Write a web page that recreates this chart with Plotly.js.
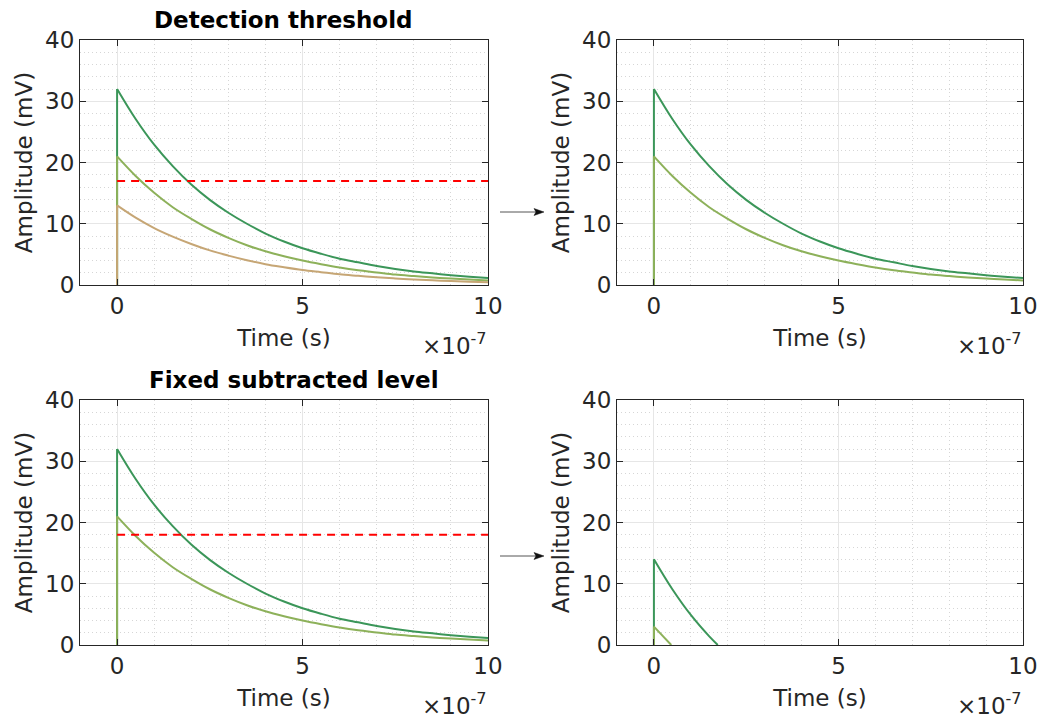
<!DOCTYPE html>
<html>
<head>
<meta charset="utf-8">
<script src="https://cdn.plot.ly/plotly-3.0.1.min.js"></script>
<style>html,body{margin:0;padding:0;background:#fff;}#chart{width:1053px;height:718px;}</style>
</head>
<body>
<div id="chart"></div>
<script>
// Time in units of 1e-7 s
var times = [0, 0, 0.5, 1, 1.5, 2, 2.5, 3, 3.5, 4, 4.5, 5, 5.5, 6, 6.5, 7, 7.5, 8, 8.5, 9, 9.5, 10];
// Amplitudes (mV)
var pulseHigh = [0, 32.0, 27.1, 22.9, 19.4, 16.4, 13.9, 11.8, 10.0, 8.4, 7.1, 6.0, 5.1, 4.3, 3.7, 3.1, 2.6, 2.2, 1.9, 1.6, 1.35, 1.14];
var pulseMid  = [0, 21.0, 17.8, 15.05, 12.7, 10.8, 9.1, 7.7, 6.5, 5.5, 4.7, 4.0, 3.4, 2.85, 2.4, 2.05, 1.7, 1.46, 1.24, 1.05, 0.89, 0.75];
var pulseLow  = [0, 13.0, 11.0, 9.3, 7.9, 6.7, 5.65, 4.8, 4.05, 3.4, 2.9, 2.45, 2.1, 1.75, 1.5, 1.26, 1.07, 0.9, 0.76, 0.65, 0.55, 0.46];
// after subtracting the fixed level
var subTimesHigh = [0, 0, 0.5, 1, 1.5, 1.73];
var subHigh = [0, 14.0, 9.1, 4.9, 1.4, 0];
var subTimesMid = [0, 0, 0.47];
var subMid = [0, 3.0, 0];
var threshold = 17;
var fixedLevel = 18;
var thrX = [0, 10];

var cHigh = '#3b9659', cMid = '#8db15a', cLow = '#c6a675';
var W = 1053, H = 718;
function dx(a, b) { return [a / W, b / W]; }
function dy(top, bot) { return [1 - bot / H, 1 - top / H]; }
function px(v) { return v / W; }
function py(v) { return 1 - v / H; }

function tr(x, y, color, xa, ya, shape, dash) {
  return {x: x, y: y, type: 'scatter', mode: 'lines', xaxis: xa, yaxis: ya,
    line: {color: color, width: 2, dash: dash || 'solid', shape: shape || 'linear', smoothing: 1},
    hoverinfo: 'skip', showlegend: false};
}
// a pulse: vertical rise (first two points) + smooth decay (rest)
function pulse(x, y, color, xa, ya) {
  return [tr(x.slice(0, 2), y.slice(0, 2), color, xa, ya),
          tr(x.slice(1), y.slice(1), color, xa, ya, 'spline')];
}

var data = [].concat(
  pulse(times, pulseHigh, cHigh, 'x', 'y'),
  pulse(times, pulseMid, cMid, 'x', 'y'),
  pulse(times, pulseLow, cLow, 'x', 'y'),
  [tr(thrX, [threshold, threshold], '#ff0000', 'x', 'y', 'linear', '8px,6px')],
  pulse(times, pulseHigh, cHigh, 'x2', 'y2'),
  pulse(times, pulseMid, cMid, 'x2', 'y2'),
  pulse(times, pulseHigh, cHigh, 'x3', 'y3'),
  pulse(times, pulseMid, cMid, 'x3', 'y3'),
  [tr(thrX, [fixedLevel, fixedLevel], '#ff0000', 'x3', 'y3', 'linear', '8px,6px')],
  pulse(subTimesHigh, subHigh, cHigh, 'x4', 'y4'),
  pulse(subTimesMid, subMid, cMid, 'x4', 'y4')
);

var FAM = 'DejaVu Sans, Liberation Sans, Arial, sans-serif';
var font = {family: FAM, size: 23, color: '#262626'};
function xax(dom, anchor) {
  return {domain: dom, anchor: anchor, range: [-1, 10], tickvals: [0, 5, 10], ticktext: ['0', '5', '10'],
    ticks: 'inside', ticklen: 6, tickcolor: '#262626', showline: true, linecolor: '#262626', linewidth: 1,
    mirror: 'ticks', showgrid: true, gridcolor: '#e6e6e6', gridwidth: 1, zeroline: false,
    tickfont: font, title: {text: 'Time (s)', font: font, standoff: 12},
    minor: {dtick: 1, tick0: 0, showgrid: true, gridcolor: '#d6d6d6', griddash: '1px,3px', gridwidth: 1, ticks: ''}};
}
function yax(dom, anchor) {
  return {domain: dom, anchor: anchor, range: [0, 40], tickvals: [0, 10, 20, 30, 40],
    ticks: 'inside', ticklen: 6, tickcolor: '#262626', showline: true, linecolor: '#262626', linewidth: 1,
    mirror: 'ticks', showgrid: true, gridcolor: '#e6e6e6', gridwidth: 1, zeroline: false,
    tickfont: font, title: {text: 'Amplitude (mV)', font: font, standoff: 6},
    minor: {dtick: 2, tick0: 0, showgrid: true, gridcolor: '#d6d6d6', griddash: '1px,3px', gridwidth: 1, ticks: ''}};
}

var xL = dx(80, 488), xR = dx(617, 1023);
var yT = dy(40, 285), yB = dy(400, 645);

function arrowShapes(yPix) {
  return [
    {type: 'line', xref: 'paper', yref: 'paper', x0: px(500), x1: px(536), y0: py(yPix), y1: py(yPix),
      line: {color: '#555', width: 1}},
    {type: 'path', xref: 'paper', yref: 'paper',
      path: 'M ' + px(544) + ' ' + py(yPix) + ' L ' + px(534) + ' ' + py(yPix - 3.5) + ' L ' + px(536) + ' ' + py(yPix) +
            ' L ' + px(534) + ' ' + py(yPix + 3.5) + ' Z',
      fillcolor: '#111', line: {color: '#111', width: 0.5}}
  ];
}

var tfont = {family: FAM, size: 23, color: '#000'};
var layout = {
  width: W, height: H, margin: {l: 0, r: 0, t: 0, b: 0},
  paper_bgcolor: '#ffffff', plot_bgcolor: '#ffffff', showlegend: false,
  xaxis: xax(xL, 'y'), yaxis: yax(yT, 'x'),
  xaxis2: xax(xR, 'y2'), yaxis2: yax(yT, 'x2'),
  xaxis3: xax(xL, 'y3'), yaxis3: yax(yB, 'x3'),
  xaxis4: xax(xR, 'y4'), yaxis4: yax(yB, 'x4'),
  shapes: [].concat(arrowShapes(212), arrowShapes(556)),
  annotations: [
    {text: '<b>Detection threshold</b>', xref: 'paper', yref: 'paper', x: px(283), y: py(20),
      showarrow: false, font: tfont, xanchor: 'center', yanchor: 'middle'},
    {text: '<b>Fixed subtracted level</b>', xref: 'paper', yref: 'paper', x: px(294), y: py(380),
      showarrow: false, font: tfont, xanchor: 'center', yanchor: 'middle'},
    {text: '×10<sup>-7</sup>', xref: 'paper', yref: 'paper', x: px(489), y: py(344), xanchor: 'right', yanchor: 'middle', showarrow: false, font: font},
    {text: '×10<sup>-7</sup>', xref: 'paper', yref: 'paper', x: px(1024), y: py(344), xanchor: 'right', yanchor: 'middle', showarrow: false, font: font},
    {text: '×10<sup>-7</sup>', xref: 'paper', yref: 'paper', x: px(489), y: py(704), xanchor: 'right', yanchor: 'middle', showarrow: false, font: font},
    {text: '×10<sup>-7</sup>', xref: 'paper', yref: 'paper', x: px(1024), y: py(704), xanchor: 'right', yanchor: 'middle', showarrow: false, font: font}
  ]
};

Plotly.newPlot('chart', data, layout, {staticPlot: true});
</script>
</body>
</html>
